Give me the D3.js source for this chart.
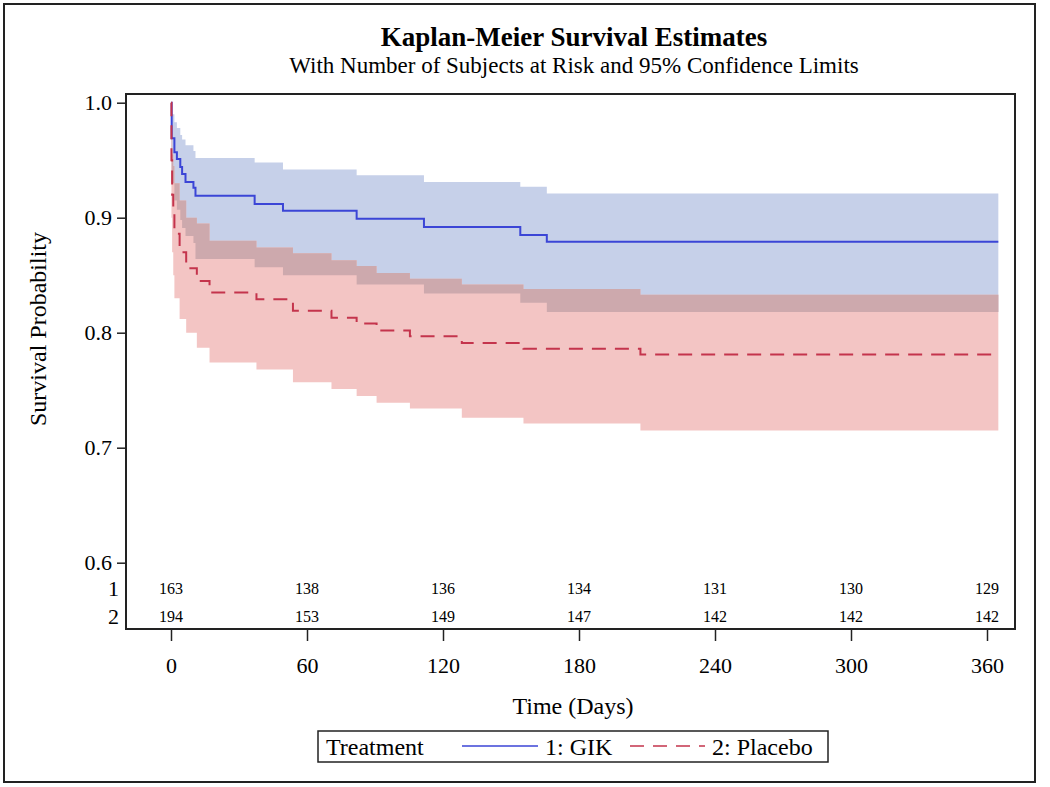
<!DOCTYPE html>
<html>
<head>
<meta charset="utf-8">
<script src="https://cdnjs.cloudflare.com/ajax/libs/d3/7.8.5/d3.min.js"></script>
<style>
  html, body { margin: 0; padding: 0; background: #fff; }
  svg text { font-family: "Liberation Serif", "Times New Roman", serif; fill: #000; }
</style>
</head>
<body>
<svg id="chart" width="1050" height="787"></svg>
<script>
// ---------------- data ----------------
const timeTicks = [0, 60, 120, 180, 240, 300, 360];
const survTicks = [0.6, 0.7, 0.8, 0.9, 1.0];
const endTime = 365;

const gikTime  = [0, 0.3, 1.5, 2.6, 4.1, 4.9, 6.4, 9.9, 10.8, 36.9, 49.4, 81.9, 111.6, 154.1, 165.8];
const gikSurv  = [1.0, 0.969, 0.957, 0.951, 0.944, 0.938, 0.931, 0.926, 0.919, 0.912, 0.906, 0.899, 0.892, 0.885, 0.879];
const gikLower = [1.0, 0.930, 0.915, 0.907, 0.898, 0.891, 0.884, 0.878, 0.864, 0.857, 0.850, 0.842, 0.834, 0.826, 0.818];
const gikUpper = [1.0, 0.990, 0.983, 0.978, 0.972, 0.968, 0.963, 0.958, 0.952, 0.948, 0.942, 0.937, 0.931, 0.927, 0.921];

const plcTime  = [0, 0.2, 0.5, 1.0, 1.5, 3.8, 6.7, 11.4, 17.0, 37.7, 53.8, 70.8, 81.9, 90.7, 105.4, 128.3, 155.5, 207.1];
const plcSurv  = [1.0, 0.950, 0.920, 0.905, 0.886, 0.870, 0.856, 0.845, 0.835, 0.829, 0.819, 0.813, 0.808, 0.802, 0.797, 0.791, 0.786, 0.781];
const plcLower = [1.0, 0.900, 0.870, 0.850, 0.830, 0.812, 0.800, 0.787, 0.774, 0.768, 0.757, 0.751, 0.745, 0.739, 0.734, 0.726, 0.721, 0.715];
const plcUpper = [1.0, 0.975, 0.955, 0.945, 0.930, 0.915, 0.900, 0.895, 0.880, 0.874, 0.869, 0.863, 0.858, 0.852, 0.847, 0.842, 0.838, 0.833];

const groupLabels = ["1", "2"];
const gikAtRisk = [163, 138, 136, 134, 131, 130, 129];
const plcAtRisk = [194, 153, 149, 147, 142, 142, 142];

const legendTitle = "Treatment";
const legendNames = ["1: GIK", "2: Placebo"];

// ---------------- layout ----------------
const svg = d3.select("#chart");
const frame = { left: 126, right: 1015, top: 94, bottom: 629 };
const x = d3.scaleLinear().domain([0, 360]).range([171, 987]);
const y = d3.scaleLinear().domain([0.6, 1.0]).range([562.7, 102.7]);

const colors = {
  blueBand: "#C6D0E9", pinkBand: "#F3C5C4", overlap: "#CDA9AD",
  blueLine: "#3B45D6", redLine: "#C4344C"
};

// outer border
svg.append("rect").attr("x", 4).attr("y", 4).attr("width", 1031).attr("height", 778)
  .attr("fill", "none").attr("stroke", "#222").attr("stroke-width", 2);

// titles
svg.append("text").attr("x", 574).attr("y", 46).attr("text-anchor", "middle")
  .attr("font-size", 27).attr("font-weight", "bold").text("Kaplan-Meier Survival Estimates");
svg.append("text").attr("x", 574).attr("y", 73).attr("text-anchor", "middle")
  .attr("font-size", 23).text("With Number of Subjects at Risk and 95% Confidence Limits");

// helpers
function series(times, vals) {
  const pts = times.map((t, i) => ({ t, v: vals[i] }));
  pts.push({ t: endTime, v: vals[vals.length - 1] });
  return pts;
}
function stepVal(times, vals, t) {
  let idx = 0;
  for (let i = 0; i < times.length; i++) if (times[i] <= t) idx = i;
  return vals[idx];
}
function bandPts(times, lo, hi) {
  const pts = times.map((t, i) => ({ t, lo: lo[i], hi: hi[i] }));
  pts.push({ t: endTime, lo: lo[lo.length - 1], hi: hi[hi.length - 1] });
  return pts;
}
const area = d3.area().curve(d3.curveStepAfter)
  .x(d => x(d.t)).y0(d => y(d.lo)).y1(d => y(d.hi));
const line = d3.line().curve(d3.curveStepAfter).x(d => x(d.t)).y(d => y(d.v));

const plot = svg.append("g");

// confidence bands
plot.append("path").datum(bandPts(gikTime, gikLower, gikUpper))
  .attr("d", area).attr("fill", colors.blueBand);
plot.append("path").datum(bandPts(plcTime, plcLower, plcUpper))
  .attr("d", area).attr("fill", colors.pinkBand);

// overlap of bands
const allTimes = Array.from(new Set(gikTime.concat(plcTime))).sort((a, b) => a - b);
const overlapPts = allTimes.map(t => {
  const lo = Math.max(stepVal(gikTime, gikLower, t), stepVal(plcTime, plcLower, t));
  const hi = Math.min(stepVal(gikTime, gikUpper, t), stepVal(plcTime, plcUpper, t));
  return { t, lo, hi: Math.max(lo, hi) };
});
overlapPts.push(Object.assign({}, overlapPts[overlapPts.length - 1], { t: endTime }));
plot.append("path").datum(overlapPts).attr("d", area).attr("fill", colors.overlap);

// survival curves
plot.append("path").datum(series(gikTime, gikSurv)).attr("d", line)
  .attr("fill", "none").attr("stroke", colors.blueLine).attr("stroke-width", 2);
plot.append("path").datum(series(plcTime, plcSurv)).attr("d", line)
  .attr("fill", "none").attr("stroke", colors.redLine).attr("stroke-width", 2)
  .attr("stroke-dasharray", "14,9");

// frame
svg.append("rect").attr("x", frame.left).attr("y", frame.top)
  .attr("width", frame.right - frame.left).attr("height", frame.bottom - frame.top)
  .attr("fill", "none").attr("stroke", "#222").attr("stroke-width", 2);

// y axis
const yAxis = d3.axisLeft(y).tickValues(survTicks).tickFormat(d3.format(".1f")).tickSize(9).tickPadding(5);
const gy = svg.append("g").attr("transform", `translate(${frame.left},0)`).call(yAxis);
gy.select(".domain").remove();
gy.selectAll("line").attr("stroke", "#222").attr("stroke-width", 1.5);
gy.selectAll("text").attr("font-size", 22).attr("font-family", "Liberation Serif, serif").attr("fill", "#000");

// x axis
const xAxis = d3.axisBottom(x).tickValues(timeTicks).tickSize(12).tickPadding(16);
const gx = svg.append("g").attr("transform", `translate(0,${frame.bottom})`).call(xAxis);
gx.select(".domain").remove();
gx.selectAll("line").attr("stroke", "#222").attr("stroke-width", 1.5);
gx.selectAll("text").attr("font-size", 22).attr("font-family", "Liberation Serif, serif").attr("fill", "#000");

// axis titles
svg.append("text").attr("x", 573).attr("y", 714).attr("text-anchor", "middle")
  .attr("font-size", 24).text("Time (Days)");
svg.append("text").attr("transform", "translate(46,329) rotate(-90)").attr("text-anchor", "middle")
  .attr("font-size", 24).text("Survival Probability");

// at-risk table
const rowsY = [588, 616];
[gikAtRisk, plcAtRisk].forEach((arr, r) => {
  svg.append("text").attr("x", 119).attr("y", rowsY[r]).attr("dy", "0.35em")
    .attr("text-anchor", "end").attr("font-size", 22).text(groupLabels[r]);
  svg.append("g").selectAll("text").data(arr).join("text")
    .attr("x", (d, i) => x(timeTicks[i])).attr("y", rowsY[r]).attr("dy", "0.35em")
    .attr("text-anchor", "middle").attr("font-size", 16).text(d => d);
});

// legend
const lg = svg.append("g");
lg.append("rect").attr("x", 318).attr("y", 731).attr("width", 510).attr("height", 31)
  .attr("fill", "none").attr("stroke", "#222").attr("stroke-width", 1.5);
lg.append("text").attr("x", 326).attr("y", 755).attr("font-size", 24).text(legendTitle);
lg.append("line").attr("x1", 462).attr("x2", 538).attr("y1", 746).attr("y2", 746)
  .attr("stroke", colors.blueLine).attr("stroke-width", 1.5);
lg.append("text").attr("x", 545).attr("y", 755).attr("font-size", 24).text(legendNames[0]);
lg.append("line").attr("x1", 630).attr("x2", 705).attr("y1", 746).attr("y2", 746)
  .attr("stroke", colors.redLine).attr("stroke-width", 1.5).attr("stroke-dasharray", "14,9");
lg.append("text").attr("x", 712).attr("y", 755).attr("font-size", 24).text(legendNames[1]);
</script>
</body>
</html>
